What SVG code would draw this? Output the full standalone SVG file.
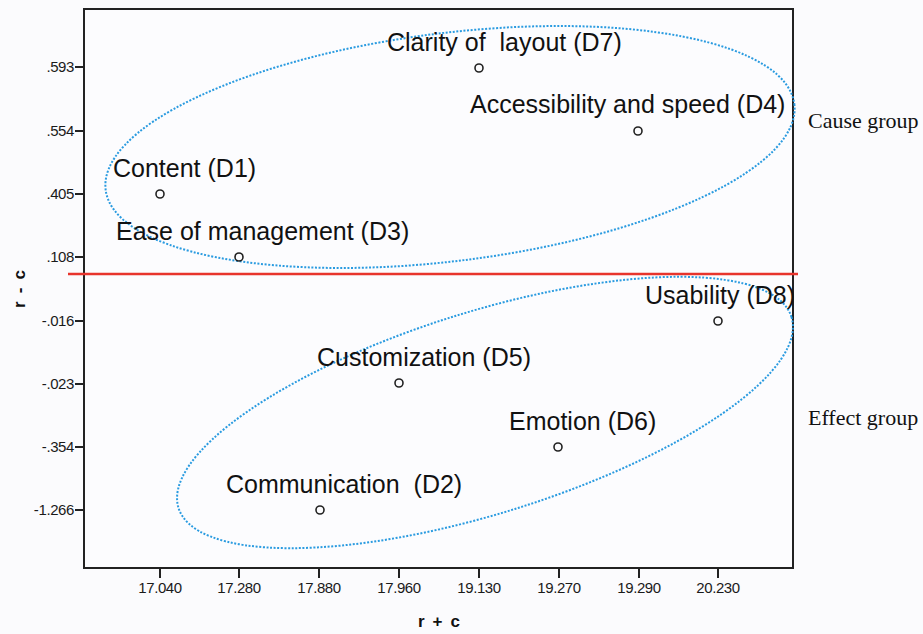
<svg xmlns="http://www.w3.org/2000/svg" width="923" height="634" viewBox="0 0 923 634">
<style>
.lbl{font-family:"Liberation Sans",Arial,sans-serif;font-size:25px;fill:#111}
.tk{font-family:"Liberation Sans",Arial,sans-serif;font-size:15px;letter-spacing:-0.4px;fill:#1a1a1a}
.ax{font-family:"Liberation Sans",Arial,sans-serif;font-size:17px;font-weight:bold;fill:#111}
.grp{font-family:"Liberation Serif","Times New Roman",serif;font-size:22px;fill:#111}
.pt{fill:none;stroke:#222;stroke-width:1.6}
.ell{fill:none;stroke:#2a9be0;stroke-width:2;stroke-dasharray:2 1.6}
.tick{stroke:#222;stroke-width:2}
</style>
<rect width="923" height="634" fill="#fbfbfd"/>
<g id="frame">
<rect x="84" y="9" width="709" height="559" fill="#fcfcfe" stroke="#222" stroke-width="2"/>
<g class="tick">
<line x1="75" y1="67" x2="84" y2="67"/>
<line x1="75" y1="131" x2="84" y2="131"/>
<line x1="75" y1="194" x2="84" y2="194"/>
<line x1="75" y1="257" x2="84" y2="257"/>
<line x1="75" y1="321" x2="84" y2="321"/>
<line x1="75" y1="384" x2="84" y2="384"/>
<line x1="75" y1="447" x2="84" y2="447"/>
<line x1="75" y1="510" x2="84" y2="510"/>
<line x1="160" y1="568" x2="160" y2="578"/>
<line x1="239" y1="568" x2="239" y2="578"/>
<line x1="319" y1="568" x2="319" y2="578"/>
<line x1="399" y1="568" x2="399" y2="578"/>
<line x1="479" y1="568" x2="479" y2="578"/>
<line x1="559" y1="568" x2="559" y2="578"/>
<line x1="639" y1="568" x2="639" y2="578"/>
<line x1="718" y1="568" x2="718" y2="578"/>
</g>
<g class="tk" text-anchor="end">
<text x="74" y="72">.593</text>
<text x="74" y="136">.554</text>
<text x="74" y="199">.405</text>
<text x="74" y="262">.108</text>
<text x="74" y="326">-.016</text>
<text x="74" y="389">-.023</text>
<text x="74" y="452">-.354</text>
<text x="74" y="515">-1.266</text>
</g>
<g class="tk" text-anchor="middle">
<text x="160" y="593">17.040</text>
<text x="239" y="593">17.280</text>
<text x="319" y="593">17.880</text>
<text x="399" y="593">17.960</text>
<text x="479" y="593">19.130</text>
<text x="559" y="593">19.270</text>
<text x="639" y="593">19.290</text>
<text x="718" y="593">20.230</text>
</g>
<text class="ax" x="439" y="627" text-anchor="middle" textLength="42" xml:space="preserve">r + c</text>
<text class="ax" transform="translate(25 289) rotate(-90)" text-anchor="middle" textLength="38" xml:space="preserve">r - c</text>
</g>
<g id="connectors">
<line x1="68" y1="274" x2="798" y2="274" stroke="#e8342c" stroke-width="2.5"/>
</g>
<g id="cause-group">
<ellipse class="ell" cx="450" cy="147" rx="347" ry="114" transform="rotate(-7.1 450 147)"/>
<text class="grp" x="808" y="128">Cause group</text>
</g>
<g id="effect-group">
<ellipse class="ell" cx="485" cy="412.5" rx="321" ry="101" transform="rotate(-17.3 485 412.5)"/>
<text class="grp" x="808" y="425">Effect group</text>
</g>
<g id="D1"><circle class="pt" cx="160" cy="194" r="4"/><text class="lbl" x="113" y="177">Content (D1)</text></g>
<g id="D3"><circle class="pt" cx="239" cy="257" r="4"/><text class="lbl" x="116" y="240">Ease of management (D3)</text></g>
<g id="D7"><circle class="pt" cx="479" cy="68" r="4"/><text class="lbl" x="387" y="51" xml:space="preserve">Clarity of  layout (D7)</text></g>
<g id="D4"><circle class="pt" cx="638" cy="131" r="4"/><text class="lbl" x="470" y="113">Accessibility and speed (D4)</text></g>
<g id="D8"><circle class="pt" cx="718" cy="321" r="4"/><text class="lbl" x="645" y="304">Usability (D8)</text></g>
<g id="D5"><circle class="pt" cx="399" cy="383" r="4"/><text class="lbl" x="317" y="366">Customization (D5)</text></g>
<g id="D6"><circle class="pt" cx="558" cy="447" r="4"/><text class="lbl" x="509" y="430">Emotion (D6)</text></g>
<g id="D2"><circle class="pt" cx="320" cy="510" r="4"/><text class="lbl" x="226" y="493" xml:space="preserve">Communication  (D2)</text></g>
</svg>
